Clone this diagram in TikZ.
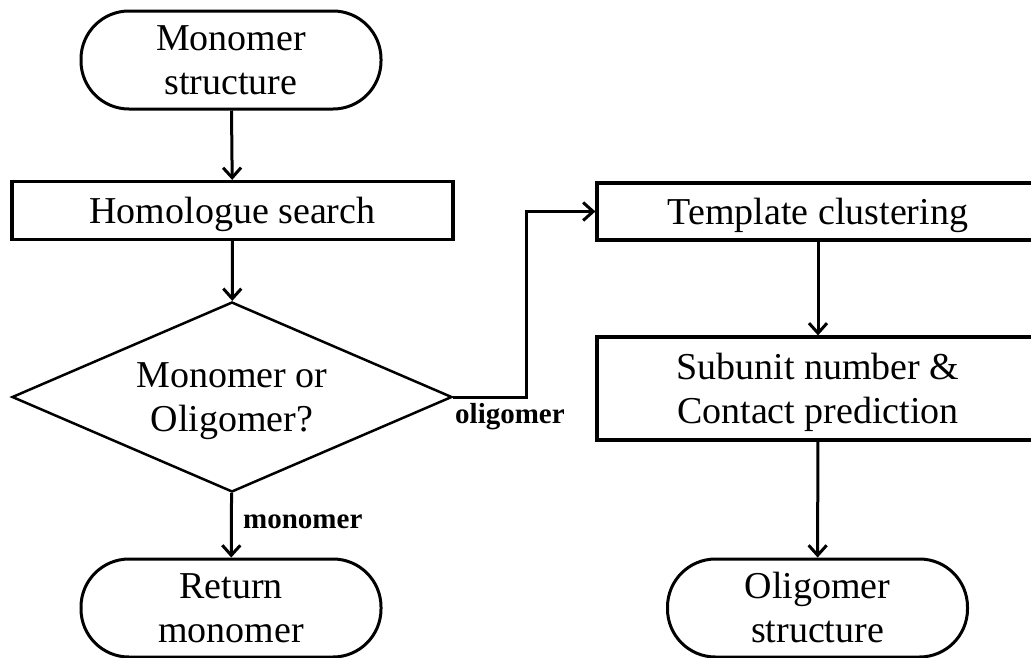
\documentclass[tikz,border=0pt]{standalone}
\usepackage{fontspec}
\setmainfont{Liberation Serif}
\usetikzlibrary{shapes.geometric,arrows.meta}
\begin{document}
\begin{tikzpicture}[x=1pt,y=-1pt,
  txt/.style={font=\fontsize{38}{44}\selectfont, align=center, inner sep=0pt, text height=25pt, text depth=0pt},
  two/.style={text height=69pt, text depth=0pt},
  term/.style={txt, two, draw, line width=3pt, rounded corners=48pt, minimum width=300pt, minimum height=98pt},
  proc/.style={txt, draw, line width=3.2pt, minimum width=441pt},
  dec/.style={txt, two, draw, diamond, line width=2.5pt, minimum width=440pt, minimum height=190pt, shape aspect=2.3},
  lab/.style={font=\bfseries\fontsize{29}{32}\selectfont, inner sep=0pt, anchor=base west},
  conn/.style={line width=3pt, -{Straight Barb[length=10pt,width=18pt,line width=3pt]}}
]
\useasboundingbox (0,0) rectangle (1031,657);
\clip (0,0) rectangle (1031,657);
\fill[white] (0,0) rectangle (1031,657);

\node[term] (ms) at (231,60) {Monomer\\structure};
\node[proc, minimum height=58pt] (hs) at (232.5,210.5) {Homologue search};
\node[dec] (d) at (232,397) {Monomer or\\Oligomer?};
\node[term] (rm) at (231,608) {Return\\monomer};

\node[proc, minimum width=442pt, minimum height=57pt] (tc) at (818,211.5) {Template clustering};
\node[proc, two, minimum width=442pt, minimum height=103pt] (sn) at (818,388.5) {Subunit number \&\\Contact prediction};
\node[term] (os) at (817.5,608) {Oligomer\\structure};

\node[lab] (lo) at (455,423) {oligomer};
\node[lab] (lm) at (243,528) {monomer};

\draw[conn] (ms) -- (hs);
\draw[conn] (hs) -- (d);
\draw[conn] (d) -- (rm);
\draw[conn] (d.east) -- ++(73,0) |- (tc.west);
\draw[conn] (tc) -- (sn);
\draw[conn] (sn) -- (os);
\end{tikzpicture}
\end{document}
